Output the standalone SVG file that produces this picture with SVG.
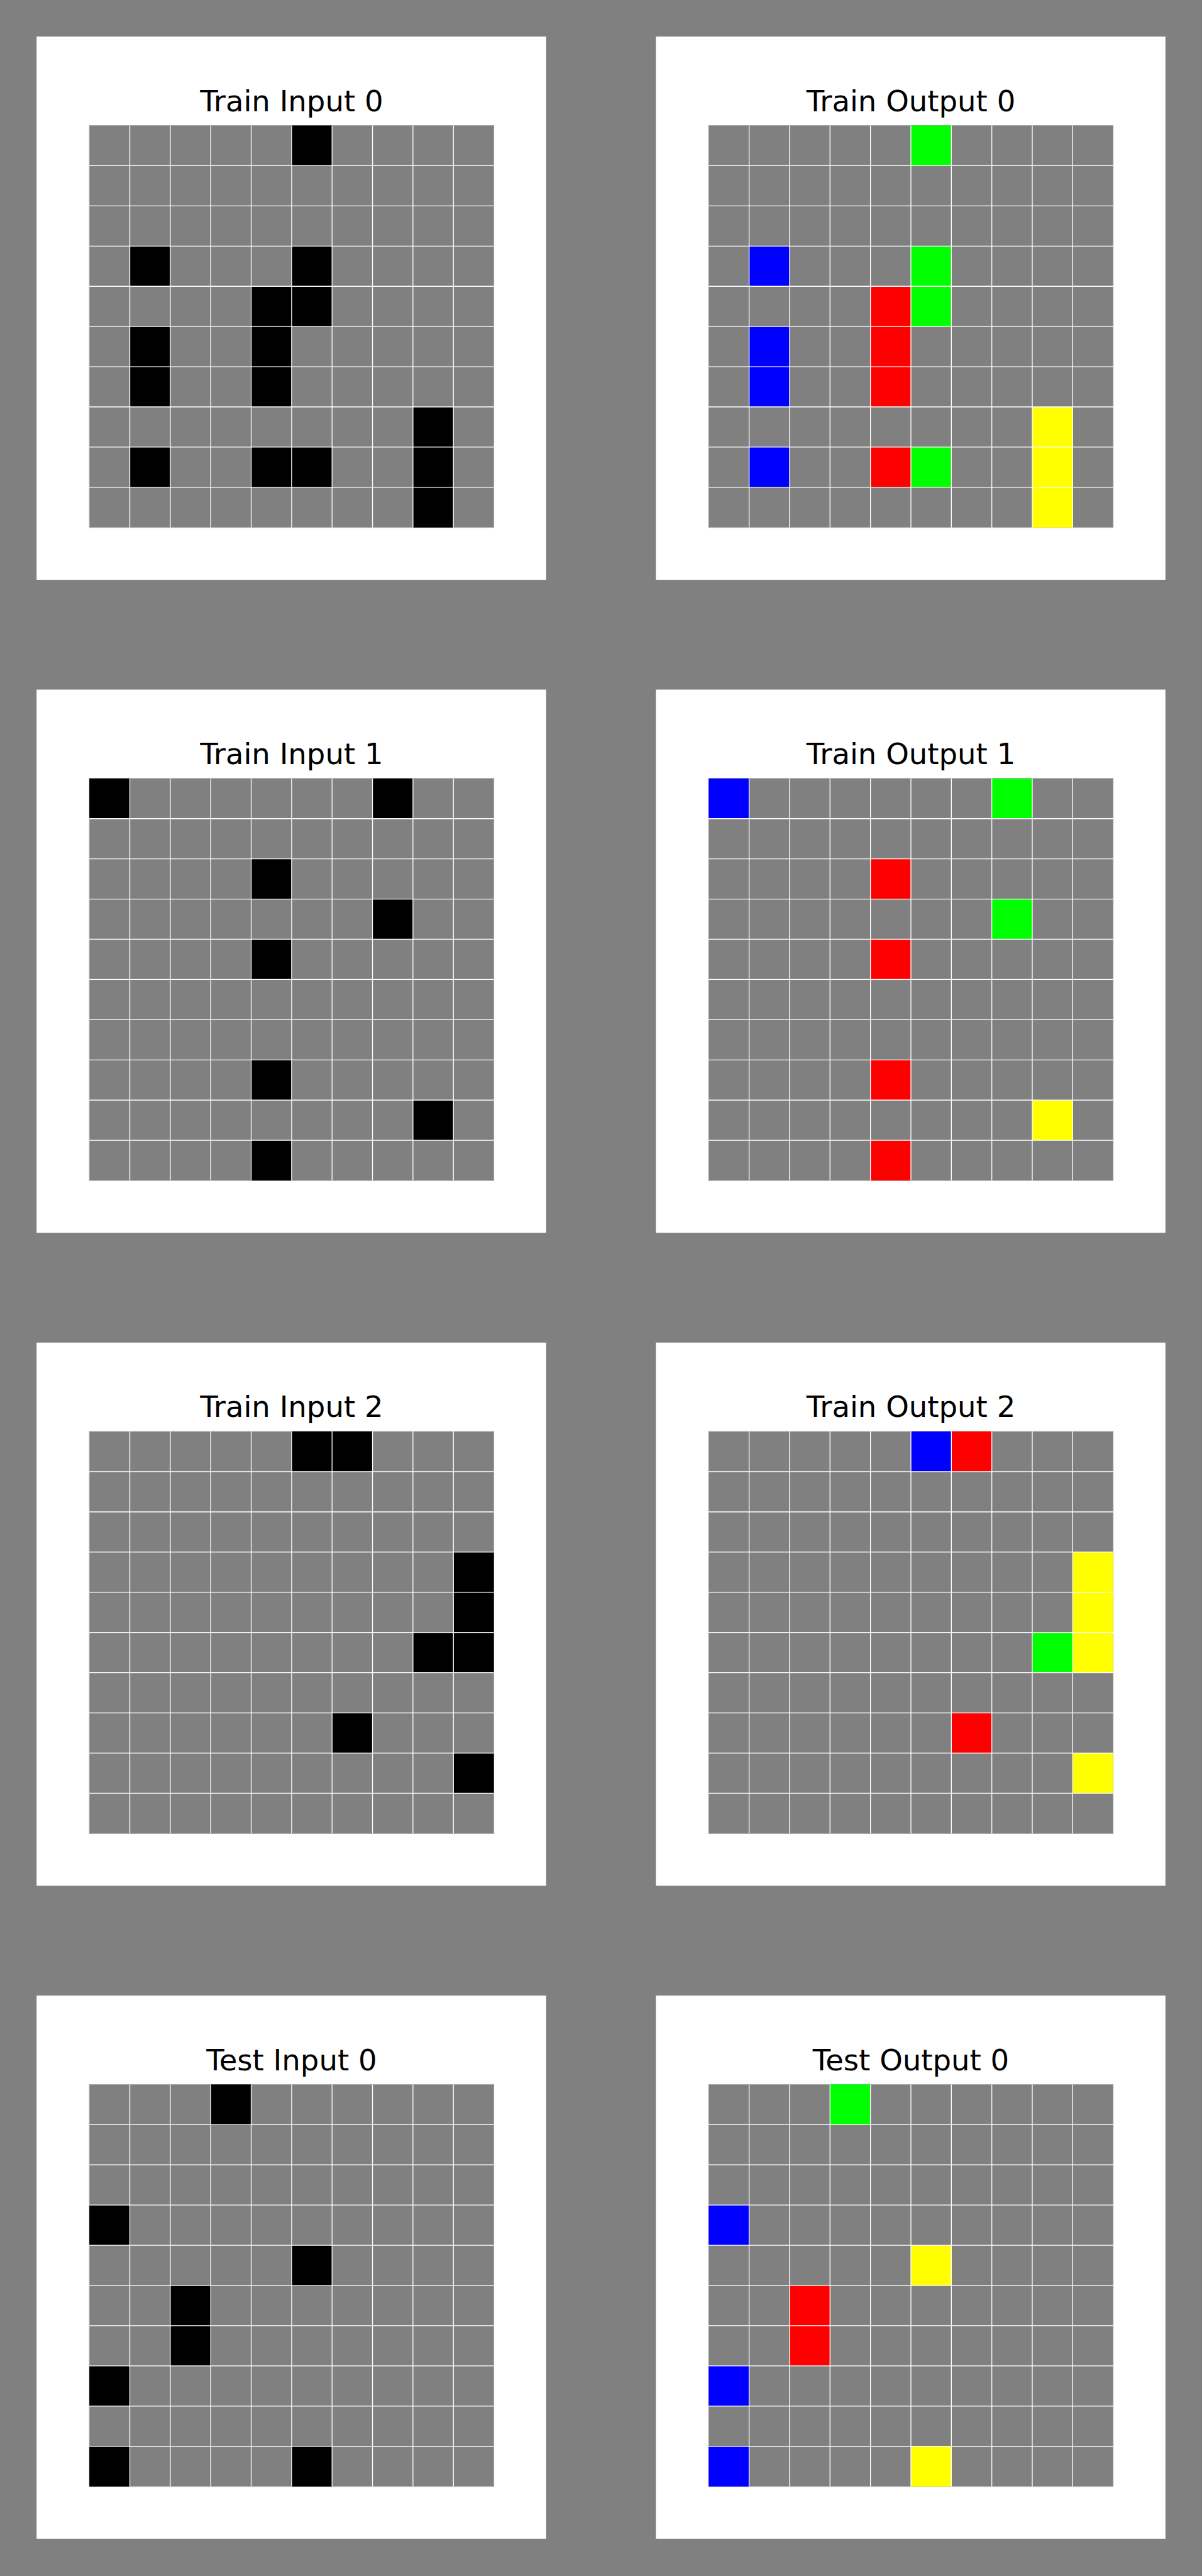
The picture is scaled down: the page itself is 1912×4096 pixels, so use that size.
<svg xmlns="http://www.w3.org/2000/svg" xmlns:xlink="http://www.w3.org/1999/xlink" width="1912" height="4096" viewBox="0 0 1912 4096">
<style>
.panel{fill:#ffffff}
.base{fill:#808080;stroke:#a6a6a6;stroke-width:1.2}
.k{fill:#000000}
.b{fill:#0000ff}
.r{fill:#ff0000}
.g{fill:#00ff00}
.y{fill:#ffff00}
.gl{fill:none;stroke:#ffffff;stroke-width:1.6}
.title{font-family:"DejaVu Sans","Liberation Sans",sans-serif;font-size:56px;fill:#000000;text-anchor:middle}
</style>
<defs>
<path id="gridlines" class="gl" d="M77.4 0V769M154.8 0V769M232.2 0V769M309.6 0V769M387 0V769M464.4 0V769M541.8 0V769M619.2 0V769M696.6 0V769M0 76.9H774M0 153.8H774M0 230.7H774M0 307.6H774M0 384.5H774M0 461.4H774M0 538.3H774M0 615.2H774M0 692.1H774"/>
<rect id="c" width="77.4" height="76.9"/>
</defs>
<rect width="1912" height="4096" fill="#808080"/>
<g transform="scale(0.831304)">
<g id="train-input-0">
<rect class="panel" x="70" y="70" width="975" height="1039"/>
<text class="title" x="558" y="212.7">Train Input 0</text>
<g transform="translate(171,240)">
<rect class="base" width="774" height="769"/>
<g class="k">
<use href="#c" x="387" y="0"/><use href="#c" x="77.4" y="230.7"/><use href="#c" x="387" y="230.7"/><use href="#c" x="309.6" y="307.6"/><use href="#c" x="387" y="307.6"/><use href="#c" x="77.4" y="384.5"/><use href="#c" x="309.6" y="384.5"/><use href="#c" x="77.4" y="461.4"/><use href="#c" x="309.6" y="461.4"/><use href="#c" x="619.2" y="538.3"/><use href="#c" x="77.4" y="615.2"/><use href="#c" x="309.6" y="615.2"/><use href="#c" x="387" y="615.2"/><use href="#c" x="619.2" y="615.2"/><use href="#c" x="619.2" y="692.1"/>
</g>
<use href="#gridlines"/>
</g>
</g>
<g id="train-output-0">
<rect class="panel" x="1255" y="70" width="975" height="1039"/>
<text class="title" x="1743" y="212.7">Train Output 0</text>
<g transform="translate(1356,240)">
<rect class="base" width="774" height="769"/>
<g class="g"><use href="#c" x="387" y="0"/><use href="#c" x="387" y="230.7"/><use href="#c" x="387" y="307.6"/><use href="#c" x="387" y="615.2"/></g>
<g class="b"><use href="#c" x="77.4" y="230.7"/><use href="#c" x="77.4" y="384.5"/><use href="#c" x="77.4" y="461.4"/><use href="#c" x="77.4" y="615.2"/></g>
<g class="r"><use href="#c" x="309.6" y="307.6"/><use href="#c" x="309.6" y="384.5"/><use href="#c" x="309.6" y="461.4"/><use href="#c" x="309.6" y="615.2"/></g>
<g class="y"><use href="#c" x="619.2" y="538.3"/><use href="#c" x="619.2" y="615.2"/><use href="#c" x="619.2" y="692.1"/></g>
<use href="#gridlines"/>
</g>
</g>
<g id="train-input-1">
<rect class="panel" x="70" y="1319" width="975" height="1039"/>
<text class="title" x="558" y="1461.7">Train Input 1</text>
<g transform="translate(171,1489)">
<rect class="base" width="774" height="769"/>
<g class="k">
<use href="#c" x="0" y="0"/><use href="#c" x="541.8" y="0"/><use href="#c" x="309.6" y="153.8"/><use href="#c" x="541.8" y="230.7"/><use href="#c" x="309.6" y="307.6"/><use href="#c" x="309.6" y="538.3"/><use href="#c" x="619.2" y="615.2"/><use href="#c" x="309.6" y="692.1"/>
</g>
<use href="#gridlines"/>
</g>
</g>
<g id="train-output-1">
<rect class="panel" x="1255" y="1319" width="975" height="1039"/>
<text class="title" x="1743" y="1461.7">Train Output 1</text>
<g transform="translate(1356,1489)">
<rect class="base" width="774" height="769"/>
<g class="b"><use href="#c" x="0" y="0"/></g>
<g class="g"><use href="#c" x="541.8" y="0"/><use href="#c" x="541.8" y="230.7"/></g>
<g class="r"><use href="#c" x="309.6" y="153.8"/><use href="#c" x="309.6" y="307.6"/><use href="#c" x="309.6" y="538.3"/><use href="#c" x="309.6" y="692.1"/></g>
<g class="y"><use href="#c" x="619.2" y="615.2"/></g>
<use href="#gridlines"/>
</g>
</g>
<g id="train-input-2">
<rect class="panel" x="70" y="2568" width="975" height="1039"/>
<text class="title" x="558" y="2710.7">Train Input 2</text>
<g transform="translate(171,2738)">
<rect class="base" width="774" height="769"/>
<g class="k">
<use href="#c" x="387" y="0"/><use href="#c" x="464.4" y="0"/><use href="#c" x="696.6" y="230.7"/><use href="#c" x="696.6" y="307.6"/><use href="#c" x="619.2" y="384.5"/><use href="#c" x="696.6" y="384.5"/><use href="#c" x="464.4" y="538.3"/><use href="#c" x="696.6" y="615.2"/>
</g>
<use href="#gridlines"/>
</g>
</g>
<g id="train-output-2">
<rect class="panel" x="1255" y="2568" width="975" height="1039"/>
<text class="title" x="1743" y="2710.7">Train Output 2</text>
<g transform="translate(1356,2738)">
<rect class="base" width="774" height="769"/>
<g class="b"><use href="#c" x="387" y="0"/></g>
<g class="r"><use href="#c" x="464.4" y="0"/><use href="#c" x="464.4" y="538.3"/></g>
<g class="y"><use href="#c" x="696.6" y="230.7"/><use href="#c" x="696.6" y="307.6"/><use href="#c" x="696.6" y="384.5"/><use href="#c" x="696.6" y="615.2"/></g>
<g class="g"><use href="#c" x="619.2" y="384.5"/></g>
<use href="#gridlines"/>
</g>
</g>
<g id="test-input-0">
<rect class="panel" x="70" y="3817" width="975" height="1039"/>
<text class="title" x="558" y="3959.7">Test Input 0</text>
<g transform="translate(171,3987)">
<rect class="base" width="774" height="769"/>
<g class="k">
<use href="#c" x="232.2" y="0"/><use href="#c" x="0" y="230.7"/><use href="#c" x="387" y="307.6"/><use href="#c" x="154.8" y="384.5"/><use href="#c" x="154.8" y="461.4"/><use href="#c" x="0" y="538.3"/><use href="#c" x="0" y="692.1"/><use href="#c" x="387" y="692.1"/>
</g>
<use href="#gridlines"/>
</g>
</g>
<g id="test-output-0">
<rect class="panel" x="1255" y="3817" width="975" height="1039"/>
<text class="title" x="1743" y="3959.7">Test Output 0</text>
<g transform="translate(1356,3987)">
<rect class="base" width="774" height="769"/>
<g class="g"><use href="#c" x="232.2" y="0"/></g>
<g class="b"><use href="#c" x="0" y="230.7"/><use href="#c" x="0" y="538.3"/><use href="#c" x="0" y="692.1"/></g>
<g class="y"><use href="#c" x="387" y="307.6"/><use href="#c" x="387" y="692.1"/></g>
<g class="r"><use href="#c" x="154.8" y="384.5"/><use href="#c" x="154.8" y="461.4"/></g>
<use href="#gridlines"/>
</g>
</g>
</g>
</svg>
